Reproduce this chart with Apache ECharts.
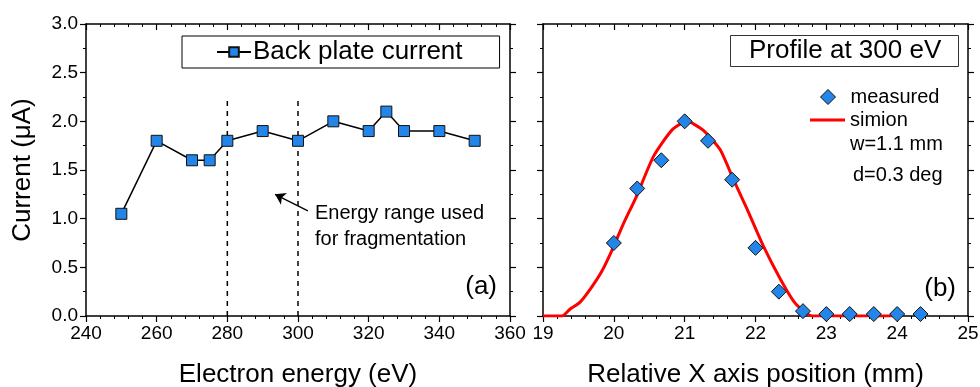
<!DOCTYPE html>
<html>
<head>
<meta charset="utf-8">
<script src="https://cdn.jsdelivr.net/npm/echarts@6/dist/echarts.min.js"></script>
<style>
html,body{margin:0;padding:0;background:#fff;}
#c{width:980px;height:387px;}
</style>
</head>
<body>
<div id="c"></div>
<script>
// ---- Data ----
const energy = [250, 260, 270, 275, 280, 290, 300, 310, 320, 325, 330, 340, 350];
const backPlateCurrent = [1.05, 1.8, 1.6, 1.6, 1.8, 1.9, 1.8, 2.0, 1.9, 2.1, 1.9, 1.9, 1.8];
const rangeLinesX = [280, 300];
const rangeLineTop = 2.23;
const arrowFrom = [302.8, 1.08];
const arrowTo = [293.5, 1.25];

const posMeasured = [20, 20.33, 20.67, 21, 21.33, 21.67, 22, 22.33, 22.67, 23, 23.33, 23.67, 24, 24.33];
const valMeasured = [0.75, 1.31, 1.6, 2.0, 1.8, 1.4, 0.7, 0.25, 0.05, 0.02, 0.02, 0.02, 0.02, 0.02];
const posSimion = [19, 19.27, 19.38, 19.52, 19.68, 19.83, 19.97, 20.13, 20.32, 20.56, 20.82, 21.03, 21.26, 21.5, 21.69, 21.88, 22.11, 22.35, 22.54, 22.68, 22.8, 24.0];
const valSimion = [0, 0, 0.07, 0.14, 0.29, 0.46, 0.67, 0.94, 1.23, 1.64, 1.91, 2.0, 1.91, 1.71, 1.4, 1.1, 0.72, 0.38, 0.15, 0.05, 0, 0];

const xTicksLeft = {min: 240, max: 360, interval: 20};
const xTicksRight = {min: 19, max: 25, interval: 1};
const yTicks = {min: 0, max: 3, interval: 0.5};

// ---- Chart ----
const FONT = 'Liberation Sans, Arial, sans-serif';
const BLUE = '#2385E8';
const chart = echarts.init(document.getElementById('c'), null, {renderer: 'canvas'});

function baseAxis(extra) {
  return Object.assign({
    axisLine: {show: true, onZero: false, lineStyle: {color: '#000', width: 1.5}},
    axisTick: {show: true, inside: false, length: 6, lineStyle: {color: '#000', width: 1.2}},
    minorTick: {show: true, length: 3, lineStyle: {color: '#000', width: 1}},
    splitLine: {show: false},
    axisLabel: {color: '#000', fontSize: 19, fontFamily: FONT, margin: 8},
    nameTextStyle: {color: '#000', fontSize: 26, fontFamily: FONT}
  }, extra);
}
const ticksOnly = {axisLabel: {show: false}};
const minorX = {show: true, splitNumber: 5, length: 3, lineStyle: {color: '#000', width: 1}};
const minorY = {show: true, splitNumber: 2, length: 3, lineStyle: {color: '#000', width: 1}};
const insideTick = {show: true, inside: true, length: 6, lineStyle: {color: '#000', width: 1.2}};

const option = {
  animation: false,
  backgroundColor: '#fff',
  grid: [
    {left: 86, top: 24, width: 424, height: 292, outerBoundsMode: 'none', containLabel: false},
    {left: 543, top: 24, width: 425, height: 292, outerBoundsMode: 'none', containLabel: false}
  ],
  xAxis: [
    baseAxis({gridIndex: 0, type: 'value', position: 'bottom', min: xTicksLeft.min, max: xTicksLeft.max, interval: xTicksLeft.interval,
      minorTick: minorX, name: 'Electron energy (eV)', nameLocation: 'middle', nameGap: 46}),
    baseAxis(Object.assign({gridIndex: 0, type: 'value', position: 'top', min: xTicksLeft.min, max: xTicksLeft.max, interval: xTicksLeft.interval,
      axisTick: insideTick, minorTick: minorX}, ticksOnly)),
    baseAxis({gridIndex: 1, type: 'value', position: 'bottom', min: xTicksRight.min, max: xTicksRight.max, interval: xTicksRight.interval,
      minorTick: minorX, name: 'Relative X axis position (mm)', nameLocation: 'middle', nameGap: 46}),
    baseAxis(Object.assign({gridIndex: 1, type: 'value', position: 'top', min: xTicksRight.min, max: xTicksRight.max, interval: xTicksRight.interval,
      axisTick: insideTick, minorTick: minorX}, ticksOnly))
  ],
  yAxis: [
    baseAxis({gridIndex: 0, type: 'value', position: 'left', min: yTicks.min, max: yTicks.max, interval: yTicks.interval,
      minorTick: minorY,
      axisLabel: {color: '#000', fontSize: 19, fontFamily: FONT, margin: 8, formatter: v => v.toFixed(1)},
      name: 'Current (\u03bcA)', nameLocation: 'middle', nameGap: 50}),
    baseAxis(Object.assign({gridIndex: 0, type: 'value', position: 'right', min: yTicks.min, max: yTicks.max, interval: yTicks.interval,
      minorTick: minorY}, ticksOnly)),
    baseAxis(Object.assign({gridIndex: 1, type: 'value', position: 'left', min: yTicks.min, max: yTicks.max, interval: yTicks.interval,
      minorTick: minorY}, ticksOnly)),
    baseAxis(Object.assign({gridIndex: 1, type: 'value', position: 'right', min: yTicks.min, max: yTicks.max, interval: yTicks.interval,
      minorTick: minorY}, ticksOnly))
  ],
  legend: [
    {
      data: ['Back plate current'],
      left: 182, top: 36,
      borderColor: '#000', borderWidth: 1,
      padding: [3, 37, 3, 34],
      itemWidth: 34, itemHeight: 12, itemGap: 4,
      textStyle: {color: '#000', fontSize: 26, fontFamily: FONT, padding: [0, 0, 0, -3]}
    },
    {
      data: [{name: 'measured', icon: 'diamond'}],
      left: 820, top: 87,
      padding: 0,
      itemWidth: 15, itemHeight: 15,
      itemStyle: {color: BLUE, borderColor: '#111', borderWidth: 1},
      textStyle: {color: '#000', fontSize: 20, fontFamily: FONT, padding: [0, 0, 0, 10]}
    },
    {
      data: [{name: 'simion', icon: 'rect'}],
      left: 810, top: 110,
      padding: 0,
      itemWidth: 35, itemHeight: 3,
      itemStyle: {color: '#FF0000', borderWidth: 0},
      textStyle: {color: '#000', fontSize: 20, fontFamily: FONT, padding: [0, 0, 0, 0]}
    }
  ],
  title: [{
    text: 'Profile at 300 eV',
    left: 730, top: 35,
    borderColor: '#333', borderWidth: 1,
    padding: [3, 18, 3, 19],
    textStyle: {color: '#000', fontSize: 26, fontWeight: 'normal', fontFamily: FONT}
  }],
  graphic: [
    {type: 'text', left: 315, top: 200, style: {text: 'Energy range used\nfor fragmentation', fill: '#000', font: '20px ' + FONT, lineHeight: 26}},
    {type: 'text', right: 980 - 497, top: 274, style: {text: '(a)', fill: '#000', font: '26px ' + FONT}},
    {type: 'text', right: 980 - 956, top: 276, style: {text: '(b)', fill: '#000', font: '26px ' + FONT}},
    {type: 'text', left: 850, top: 134, style: {text: 'w=1.1 mm', fill: '#000', font: '20px ' + FONT}},
    {type: 'text', left: 853, top: 165, style: {text: 'd=0.3 deg', fill: '#000', font: '20px ' + FONT}}
  ],
  series: [
    {
      name: 'range-lines-1', type: 'line', xAxisIndex: 0, yAxisIndex: 0, silent: true,
      data: [[rangeLinesX[0], 0], [rangeLinesX[0], rangeLineTop]], symbol: 'none',
      lineStyle: {color: '#000', width: 1.5, type: [5, 5]}
    },
    {
      name: 'range-lines-2', type: 'line', xAxisIndex: 0, yAxisIndex: 0, silent: true,
      data: [[rangeLinesX[1], 0], [rangeLinesX[1], rangeLineTop]], symbol: 'none',
      lineStyle: {color: '#000', width: 1.5, type: [5, 5]},
      markLine: {
        silent: true, symbol: ['none', 'arrow'], symbolSize: 10,
        lineStyle: {color: '#000', width: 1.3, type: 'solid'}, label: {show: false},
        itemStyle: {color: '#000'},
        data: [[{coord: arrowFrom}, {coord: arrowTo}]]
      }
    },
    {
      name: 'Back plate current', type: 'line', xAxisIndex: 0, yAxisIndex: 0,
      data: energy.map((e, i) => [e, backPlateCurrent[i]]),
      symbol: 'rect', symbolSize: 11, showSymbol: true,
      lineStyle: {color: '#000', width: 1.5},
      itemStyle: {color: BLUE, borderColor: '#111', borderWidth: 1}
    },
    {
      name: 'simion', type: 'line', xAxisIndex: 2, yAxisIndex: 2,
      data: posSimion.map((p, i) => [p, valSimion[i]]),
      symbol: 'none', smooth: 0.2,
      lineStyle: {color: '#FF0000', width: 3},
      itemStyle: {color: '#FF0000'}
    },
    {
      name: 'measured', type: 'scatter', xAxisIndex: 2, yAxisIndex: 2,
      data: posMeasured.map((p, i) => [p, valMeasured[i]]),
      symbol: 'diamond', symbolSize: 15,
      itemStyle: {color: BLUE, borderColor: '#111', borderWidth: 1, opacity: 1},
      z: 3
    }
  ]
};
chart.setOption(option);
</script>
</body>
</html>
